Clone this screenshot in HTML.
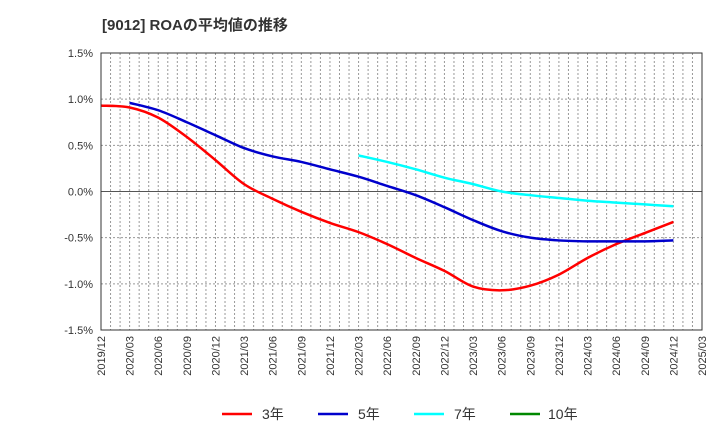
<!DOCTYPE html>
<html><head><meta charset="utf-8"><style>
body{margin:0;background:#fff;font-family:"Liberation Sans","Noto Sans CJK JP",sans-serif}
svg text{font-family:"Liberation Sans","Noto Sans CJK JP",sans-serif}
</style></head><body>
<svg id="c" width="720" height="440">
<text x="102" y="30" font-size="15" font-weight="bold" fill="#333">[9012]  ROAの平均値の推移</text>
<g id="grid"></g><g id="series"></g><g id="axes"></g>
<g font-size="14" fill="#333">
<line x1="222" y1="414" x2="252" y2="414" stroke="#f00" stroke-width="2.5"/><text x="262" y="419">3年</text>
<line x1="318" y1="414" x2="348" y2="414" stroke="#00c" stroke-width="2.5"/><text x="358" y="419">5年</text>
<line x1="414" y1="414" x2="444" y2="414" stroke="#0ff" stroke-width="2.5"/><text x="454" y="419">7年</text>
<line x1="510" y1="414" x2="540" y2="414" stroke="#080" stroke-width="2.5"/><text x="548" y="419">10年</text>
</g>
</svg>
<script>
const xLabels=["2019/12","2020/03","2020/06","2020/09","2020/12","2021/03","2021/06","2021/09","2021/12","2022/03","2022/06","2022/09","2022/12","2023/03","2023/06","2023/09","2023/12","2024/03","2024/06","2024/09","2024/12","2025/03"];
const yTicks=[1.5,1.0,0.5,0.0,-0.5,-1.0,-1.5];
const yTickLabels=["1.5%","1.0%","0.5%","0.0%","-0.5%","-1.0%","-1.5%"];
const roa3=[0.93,0.91,0.80,0.59,0.34,0.08,-0.08,-0.22,-0.34,-0.44,-0.57,-0.72,-0.86,-1.03,-1.07,-1.02,-0.90,-0.72,-0.57,-0.45,-0.33];
const roa5=[null,0.96,0.88,0.75,0.61,0.47,0.38,0.32,0.24,0.16,0.06,-0.04,-0.17,-0.31,-0.43,-0.50,-0.53,-0.54,-0.54,-0.54,-0.53];
const roa7=[null,null,null,null,null,null,null,null,null,0.39,0.32,0.24,0.15,0.08,0.00,-0.04,-0.07,-0.10,-0.12,-0.14,-0.16];
const L=101,R=702,T=53,B=330,NS="http://www.w3.org/2000/svg";
const xs=q=>L+(R-L)*q/(xLabels.length-1);
const ys=v=>T+(1.5-v)/3*(B-T);
function el(t,a,p){const e=document.createElementNS(NS,t);for(const k in a)e.setAttribute(k,a[k]);p.appendChild(e);return e;}
const g=document.getElementById('grid');
for(let m=1;m<63;m++){const x=L+(R-L)*m/63;
const l=el('line',{x1:x,y1:T,x2:x,y2:B,stroke:'#999','stroke-dasharray':'2,2','stroke-width':1},g);

}
yTicks.forEach((v,i)=>{const y=ys(v);
const l=el('line',{x1:L,y1:y,x2:R,y2:y,stroke:v===0?'#555':'#999','stroke-dasharray':v===0?'':'2,2','stroke-width':1},g);


const t=el('text',{x:L-8,y:y+4,'text-anchor':'end','font-size':11,fill:'#333'},g);t.textContent=yTickLabels[i];

});
xLabels.forEach((s,i)=>{const x=xs(i);
const t=el('text',{x:x+4,y:B+6,'text-anchor':'end','font-size':11,fill:'#333',transform:`rotate(-90 ${x+4} ${B+6})`},g);t.textContent=s;

});
const ax=el('rect',{x:L,y:T,width:R-L,height:B-T,fill:'none',stroke:'#333','stroke-width':1},document.getElementById('axes'));


function path(arr){const p=[];arr.forEach((v,i)=>{if(v!==null)p.push([xs(i),ys(v)]);});
let d=`M${p[0][0]},${p[0][1]}`;
for(let i=0;i<p.length-1;i++){const p0=p[i-1]||p[i],p1=p[i],p2=p[i+1],p3=p[i+2]||p2;
d+=` C${p1[0]+(p2[0]-p0[0])/6},${p1[1]+(p2[1]-p0[1])/6} ${p2[0]-(p3[0]-p1[0])/6},${p2[1]-(p3[1]-p1[1])/6} ${p2[0]},${p2[1]}`;}
return d;}
const sg=document.getElementById('series');
[[roa3,'#f00','line-3yr'],[roa5,'#00c','line-5yr'],[roa7,'#0ff','line-7yr']].forEach(([a,c,n])=>{
const p=el('path',{d:path(a),fill:'none',stroke:c,'stroke-width':2.5},sg);

});
</script>
</body></html>
